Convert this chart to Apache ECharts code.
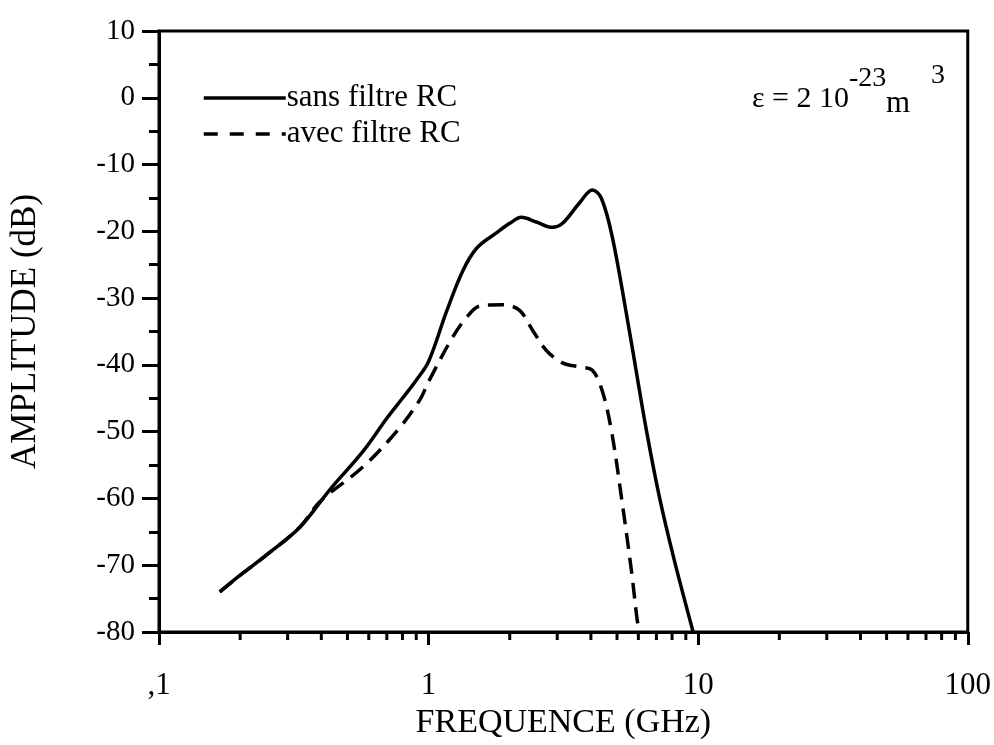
<!DOCTYPE html>
<html>
<head>
<meta charset="utf-8">
<script src="https://cdn.jsdelivr.net/npm/echarts@6/dist/echarts.min.js"></script>
<style>html,body{margin:0;padding:0;background:#fff;}#c{width:994px;height:745px;}</style>
</head>
<body>
<div id="c"></div>
<script>
// ---- data ----
const seriesNames = ['sans filtre RC', 'avec filtre RC'];
const sansFreq = [0.168, 0.20, 0.25, 0.333, 0.43, 0.57, 0.70, 0.80, 0.90, 1.0, 1.166, 1.336, 1.51, 1.79, 2.0, 2.21, 2.51, 2.88, 3.14, 3.62, 4.05, 4.37, 4.80, 5.55, 6.42, 7.2, 8.15, 9.58];
const sansDb   = [-74, -71.5, -68.5, -64.3, -58.7, -53, -48, -45, -42.3, -39.5, -32, -26, -22.5, -20.2, -18.8, -17.9, -18.6, -19.4, -18.8, -15.8, -13.8, -15, -20.8, -34.8, -49.7, -60, -69.2, -80];
const avecFreq = [0.168, 0.20, 0.25, 0.333, 0.395, 0.57, 0.76, 0.926, 1.0, 1.23, 1.39, 1.545, 1.88, 2.17, 2.43, 2.73, 3.14, 3.62, 4.05, 4.4, 4.76, 5.2, 5.65, 5.94, 6.0];
const avecDb   = [-74, -71.5, -68.5, -64.3, -60.5, -55.3, -50, -45.3, -42.5, -35.8, -32.8, -31.2, -31.0, -31.8, -34.8, -37.8, -39.7, -40.3, -40.8, -43.8, -49.7, -60, -70.7, -78.2, -79];
const xTickLabels = {0.1: ',1', 1: '1', 10: '10', 100: '100'};
const xMinorTicks = [0.2,0.3,0.4,0.5,0.6,0.7,0.8,0.9,2,3,4,5,6,7,8,9,20,30,40,50,60,70,80,90];
const yMin = -80, yMax = 10, yStep = 10;

const FONT = 'Liberation Serif';
const chart = echarts.init(document.getElementById('c'), null, {renderer: 'canvas'});
const zip = (a, b) => a.map((v, i) => [v, b[i]]);

chart.setOption({
  backgroundColor: '#fff',
  animation: false,
  textStyle: {fontFamily: FONT, color: '#000'},
  grid: {left: 159, top: 31, width: 812, height: 601, show: true, borderColor: '#000', borderWidth: 3, backgroundColor: 'transparent'},
  legend: {
    orient: 'vertical', left: 197, top: 77, itemWidth: 82, itemHeight: 14, itemGap: 4,
    selectedMode: false,
    itemStyle: {opacity: 0, borderWidth: 0},
    textStyle: {fontFamily: FONT, fontSize: 31, lineHeight: 32, color: '#000', padding: [0,0,0,-4]},
    data: [
      {name: seriesNames[0], lineStyle: {width: 3.5, type: 'solid', color: '#000'}},
      {name: seriesNames[1], lineStyle: {width: 3.5, type: [14, 12], color: '#000'}}
    ]
  },
  xAxis: {
    type: 'log', logBase: 10, min: 0.1, max: 100,
    name: 'FREQUENCE (GHz)', nameLocation: 'middle', nameGap: 62,
    nameTextStyle: {fontFamily: FONT, fontSize: 34, color: '#000'},
    axisLine: {show: true, onZero: false, lineStyle: {color: '#000', width: 3}},
    axisTick: {show: true, inside: false, length: 13, lineStyle: {color: '#000', width: 3}},
    axisLabel: {margin: 38, fontFamily: FONT, fontSize: 31, color: '#000',
      formatter: v => { const k = Math.round(v * 1000) / 1000; return xTickLabels[k] !== undefined ? xTickLabels[k] : ''; }},
    splitLine: {show: false}, minorTick: {show: false}
  },
  yAxis: {
    type: 'value', min: yMin, max: yMax, interval: yStep,
    name: 'AMPLITUDE (dB)', nameLocation: 'middle', nameGap: 116, nameRotate: 90,
    nameTextStyle: {fontFamily: FONT, fontSize: 35, color: '#000'},
    axisLine: {show: true, onZero: false, lineStyle: {color: '#000', width: 3}},
    axisTick: {show: true, inside: false, length: 17, lineStyle: {color: '#000', width: 3}},
    minorTick: {show: true, splitNumber: 2, length: 10, lineStyle: {color: '#000', width: 3}},
    axisLabel: {margin: 24, fontFamily: FONT, fontSize: 29, color: '#000'},
    splitLine: {show: false}, minorSplitLine: {show: false}
  },
  graphic: [
    {type: 'text', left: 752, top: 84, style: {text: 'ε = 2 10', font: '30px "Liberation Serif"', fill: '#000'}},
    {type: 'text', left: 849, top: 65, style: {text: '-23', font: '28px "Liberation Serif"', fill: '#000'}},
    {type: 'text', left: 886, top: 88, style: {text: 'm', font: '31px "Liberation Serif"', fill: '#000'}},
    {type: 'text', left: 931, top: 62, style: {text: '3', font: '28px "Liberation Serif"', fill: '#000'}}
  ],
  series: [
    {name: seriesNames[0], type: 'line', data: zip(sansFreq, sansDb), smooth: 0.35, showSymbol: false, symbol: 'none',
     lineStyle: {color: '#000', width: 3.5, type: 'solid'}, itemStyle: {color: '#000'}, clip: true},
    {name: seriesNames[1], type: 'line', data: zip(avecFreq, avecDb), smooth: 0.35, showSymbol: false, symbol: 'none',
     lineStyle: {color: '#000', width: 3.5, type: [16, 9]}, itemStyle: {color: '#000'}, clip: true},
    {type: 'custom', name: 'minorX', silent: true, clip: false, data: xMinorTicks.map(v => [v, yMin]),
     renderItem: (params, api) => {
       const p = api.coord([api.value(0), api.value(1)]);
       return {type: 'line', shape: {x1: p[0], y1: p[1], x2: p[0], y2: p[1] + 8}, style: {stroke: '#000', lineWidth: 3}};
     }}
  ]
});
</script>
</body>
</html>
